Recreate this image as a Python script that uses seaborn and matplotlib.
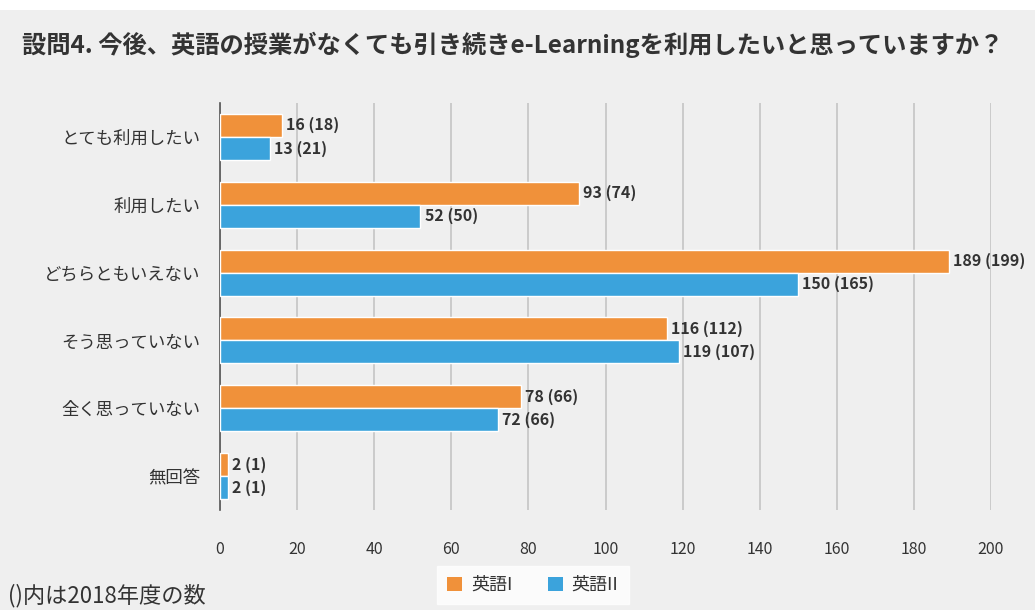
import matplotlib
matplotlib.use("Agg")
import matplotlib.pyplot as plt
import seaborn as sns
import pandas as pd
from matplotlib.patches import Patch, Rectangle

categories = ["とても利用したい", "利用したい", "どちらともいえない", "そう思っていない", "全く思っていない", "無回答"]
series_names = ["英語I", "英語II"]
eng1_2019 = [16, 93, 189, 116, 78, 2]
eng1_2018 = [18, 74, 199, 112, 66, 1]
eng2_2019 = [13, 52, 150, 119, 72, 2]
eng2_2018 = [21, 50, 165, 107, 66, 1]
x_ticks = [0, 20, 40, 60, 80, 100, 120, 140, 160, 180, 200]

title = "設問4. 今後、英語の授業がなくても引き続きe-Learningを利用したいと思っていますか？"
footnote = "()内は2018年度の数"

ORANGE = "#F0913A"
BLUE = "#3BA3DC"
BG = "#EFEFEF"
TXT = "#333333"

sns.set_theme(style="white")
plt.rcParams['font.family'] = ['Noto Sans CJK JP', 'DejaVu Sans']

df = pd.DataFrame({
    "cat": categories * 2,
    "value": eng1_2019 + eng2_2019,
    "course": [series_names[0]] * len(categories) + [series_names[1]] * len(categories),
})

fig = plt.figure(figsize=(10.35, 6.1), dpi=100, facecolor=BG)
fig.patches.append(Rectangle((0, 1 - 10 / 610), 1, 10 / 610, transform=fig.transFigure,
                             facecolor="white", edgecolor="none", zorder=0))

ax = fig.add_axes([220 / 1035, 1 - 510 / 610, (991 - 220) / 1035, (510 - 103) / 610])
ax.set_facecolor(BG)

sns.barplot(data=df, y="cat", x="value", hue="course", orient="h",
            palette=[ORANGE, BLUE], saturation=1, width=0.68, edgecolor="white", linewidth=1,
            order=categories, hue_order=series_names, legend=False, ax=ax, zorder=3)

ax.set_xlim(0, 200)
ax.set_ylim(len(categories) - 0.5, -0.5)
ax.set_xticks(x_ticks)
ax.set_xticklabels([str(v) for v in x_ticks], fontsize=11.5, color=TXT)
ax.tick_params(axis="x", length=0, pad=22)
ax.set_yticks(range(len(categories)))
ax.set_yticklabels(categories, fontsize=12.5, color=TXT)
ax.tick_params(axis="y", which="major", length=0, pad=14)
ax.set_yticks([i - 0.5 for i in range(len(categories) + 1)], minor=True)
ax.tick_params(axis="y", which="minor", length=5, width=1.2, color="#555555", direction="out")
ax.set_xlabel("")
ax.set_ylabel("")

ax.grid(axis="x", color="#C4C4C4", linewidth=1.2, zorder=0)
ax.grid(axis="y", visible=False)
for s in ["top", "right", "bottom"]:
    ax.spines[s].set_visible(False)
ax.spines["left"].set_color("#555555")
ax.spines["left"].set_linewidth(1.2)

labels1 = [f"{a} ({b})" for a, b in zip(eng1_2019, eng1_2018)]
labels2 = [f"{a} ({b})" for a, b in zip(eng2_2019, eng2_2018)]
ax.bar_label(ax.containers[0], labels=labels1, padding=3, fontsize=11.5,
             fontweight="bold", color=TXT)
ax.bar_label(ax.containers[1], labels=labels2, padding=3, fontsize=11.5,
             fontweight="bold", color=TXT)

fig.text(22 / 1035, 1 - 45 / 610, title, fontsize=17.5, fontweight="bold", color=TXT,
         va="center", ha="left")
fig.text(8 / 1035, 1 - 596 / 610, footnote, fontsize=16, color=TXT, va="center", ha="left")

handles = [Patch(facecolor=ORANGE, edgecolor="none"), Patch(facecolor=BLUE, edgecolor="none")]
leg = fig.legend(handles, series_names, loc="center", bbox_to_anchor=(533 / 1035, 1 - 585 / 610),
                 ncol=2, frameon=True, fancybox=False, fontsize=13, handlelength=0.8,
                 handleheight=0.8, columnspacing=2.0, handletextpad=0.5,
                 borderpad=0.55, borderaxespad=0)
leg.get_frame().set_facecolor("white")
leg.get_frame().set_edgecolor("white")
for t in leg.get_texts():
    t.set_color(TXT)

fig.savefig("out.png", dpi=100, facecolor=BG)
